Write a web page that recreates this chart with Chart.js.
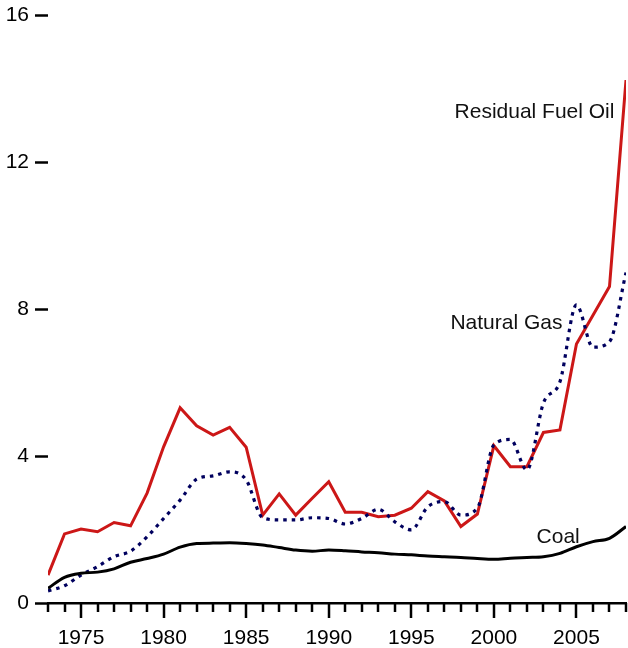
<!DOCTYPE html>
<html>
<head>
<meta charset="utf-8">
<script src="https://cdn.jsdelivr.net/npm/chart.js@4"></script>
<style>
  html, body { margin: 0; padding: 0; background: #fff; }
  #wrap { width: 628px; height: 648px; }
</style>
</head>
<body>
<div id="wrap"><canvas id="myChart" width="628" height="648"></canvas></div>
<script>
// years 1973..2008
var years = [];
for (let y = 1973; y <= 2008; y++) years.push(y);

var fuelOil = [0.76,1.88,2.01,1.94,2.19,2.10,2.99,4.25,5.31,4.82,4.57,4.78,4.24,
  2.39,2.97,2.39,2.85,3.30,2.47,2.47,2.35,2.39,2.58,3.03,2.78,2.08,2.42,
  4.28,3.71,3.71,4.64,4.71,7.05,7.83,8.61,14.23];
var natGas = [0.33,0.47,0.76,0.99,1.26,1.41,1.80,2.30,2.80,3.37,3.46,3.57,3.35,
  2.32,2.26,2.26,2.32,2.30,2.15,2.30,2.55,2.21,1.99,2.62,2.76,2.39,2.58,
  4.30,4.45,3.62,5.44,6.02,8.11,6.96,7.11,8.99];
var coal = [0.40,0.70,0.81,0.84,0.93,1.11,1.21,1.33,1.52,1.62,1.63,1.64,1.62,
  1.58,1.51,1.44,1.41,1.44,1.42,1.39,1.37,1.33,1.31,1.28,1.26,1.24,1.21,
  1.19,1.22,1.24,1.26,1.35,1.53,1.67,1.76,2.08];
var yTicks = [0, 4, 8, 12, 16];

function pts(vals){
  var out = [];
  for (let i = 0; i < years.length; i++) out.push({x: years[i], y: vals[i]});
  return out;
}

// series names written next to the lines, anchored at data coordinates
var seriesLabels = [
  {text: 'Residual Fuel Oil', x: 2007.3, y: 13.35},
  {text: 'Natural Gas', x: 2004.15, y: 7.6},
  {text: 'Coal', x: 2005.2, y: 1.8}
];

var extras = {
  id: 'extras',
  afterDraw: function(chart){
    var ctx = chart.ctx, xs = chart.scales.x, ys = chart.scales.y;
    var bottom = chart.chartArea.bottom;
    ctx.save();
    ctx.strokeStyle = '#000';
    ctx.lineWidth = 2.5;
    for (let i = 0; i < years.length; i++) {
      var px = Math.round(xs.getPixelForValue(years[i]));
      var len = years[i] % 5 === 0 ? 15 : 9;
      ctx.beginPath();
      ctx.moveTo(px, bottom);
      ctx.lineTo(px, bottom + len);
      ctx.stroke();
    }
    ctx.fillStyle = '#111';
    ctx.font = '21px "Liberation Sans", Arial, sans-serif';
    ctx.textAlign = 'right';
    ctx.textBaseline = 'middle';
    seriesLabels.forEach(function(l){
      ctx.fillText(l.text, xs.getPixelForValue(l.x), ys.getPixelForValue(l.y));
    });
    ctx.restore();
  }
};

new Chart('myChart', {
  type: 'line',
  data: {
    datasets: [{
      data: pts(coal),
      borderColor: '#000',
      borderWidth: 3,
      cubicInterpolationMode: 'monotone',
      fill: false
    }, {
      data: pts(natGas),
      borderColor: '#00005e',
      borderWidth: 3.2,
      borderDash: [3.5, 5],
      cubicInterpolationMode: 'monotone',
      fill: false
    }, {
      data: pts(fuelOil),
      borderColor: '#cc1717',
      borderWidth: 3,
      tension: 0,
      fill: false
    }]
  },
  options: {
    responsive: false,
    animation: false,
    events: [],
    elements: {point: {radius: 0, hoverRadius: 0, borderWidth: 0, hoverBorderWidth: 0}},
    layout: {padding: {top: 15, right: 2, left: 0, bottom: 0}},
    plugins: {legend: {display: false}, tooltip: {enabled: false}},
    scales: {
      x: {
        type: 'linear',
        min: 1973, max: 2008,
        afterFit: function(s){ s.height = 45; s.paddingLeft = 0; s.paddingRight = 0; },
        border: {display: true, color: '#000', width: 2.5},
        grid: {display: true, drawOnChartArea: false, drawTicks: true, tickLength: 15, tickColor: 'rgba(0,0,0,0)'},
        ticks: {
          stepSize: 1, autoSkip: false, maxRotation: 0, padding: 8,
          color: '#000',
          font: {family: '"Liberation Sans", Arial, sans-serif', size: 21},
          callback: function(v){ return v % 5 === 0 ? String(v) : ''; }
        }
      },
      y: {
        min: 0, max: 16,
        afterFit: function(s){ s.width = 48; s.paddingTop = 0; s.paddingBottom = 0; },
        afterBuildTicks: function(s){ s.ticks = yTicks.map(function(v){ return {value: v}; }); },
        border: {display: false},
        grid: {display: true, drawOnChartArea: false, drawTicks: true, tickLength: 13, tickWidth: 2.5, tickColor: '#000'},
        ticks: {
          padding: 6, color: '#000',
          font: {family: '"Liberation Sans", Arial, sans-serif', size: 21},
          callback: function(v){ return String(v); }
        }
      }
    }
  },
  plugins: [extras]
});
</script>
</body>
</html>
